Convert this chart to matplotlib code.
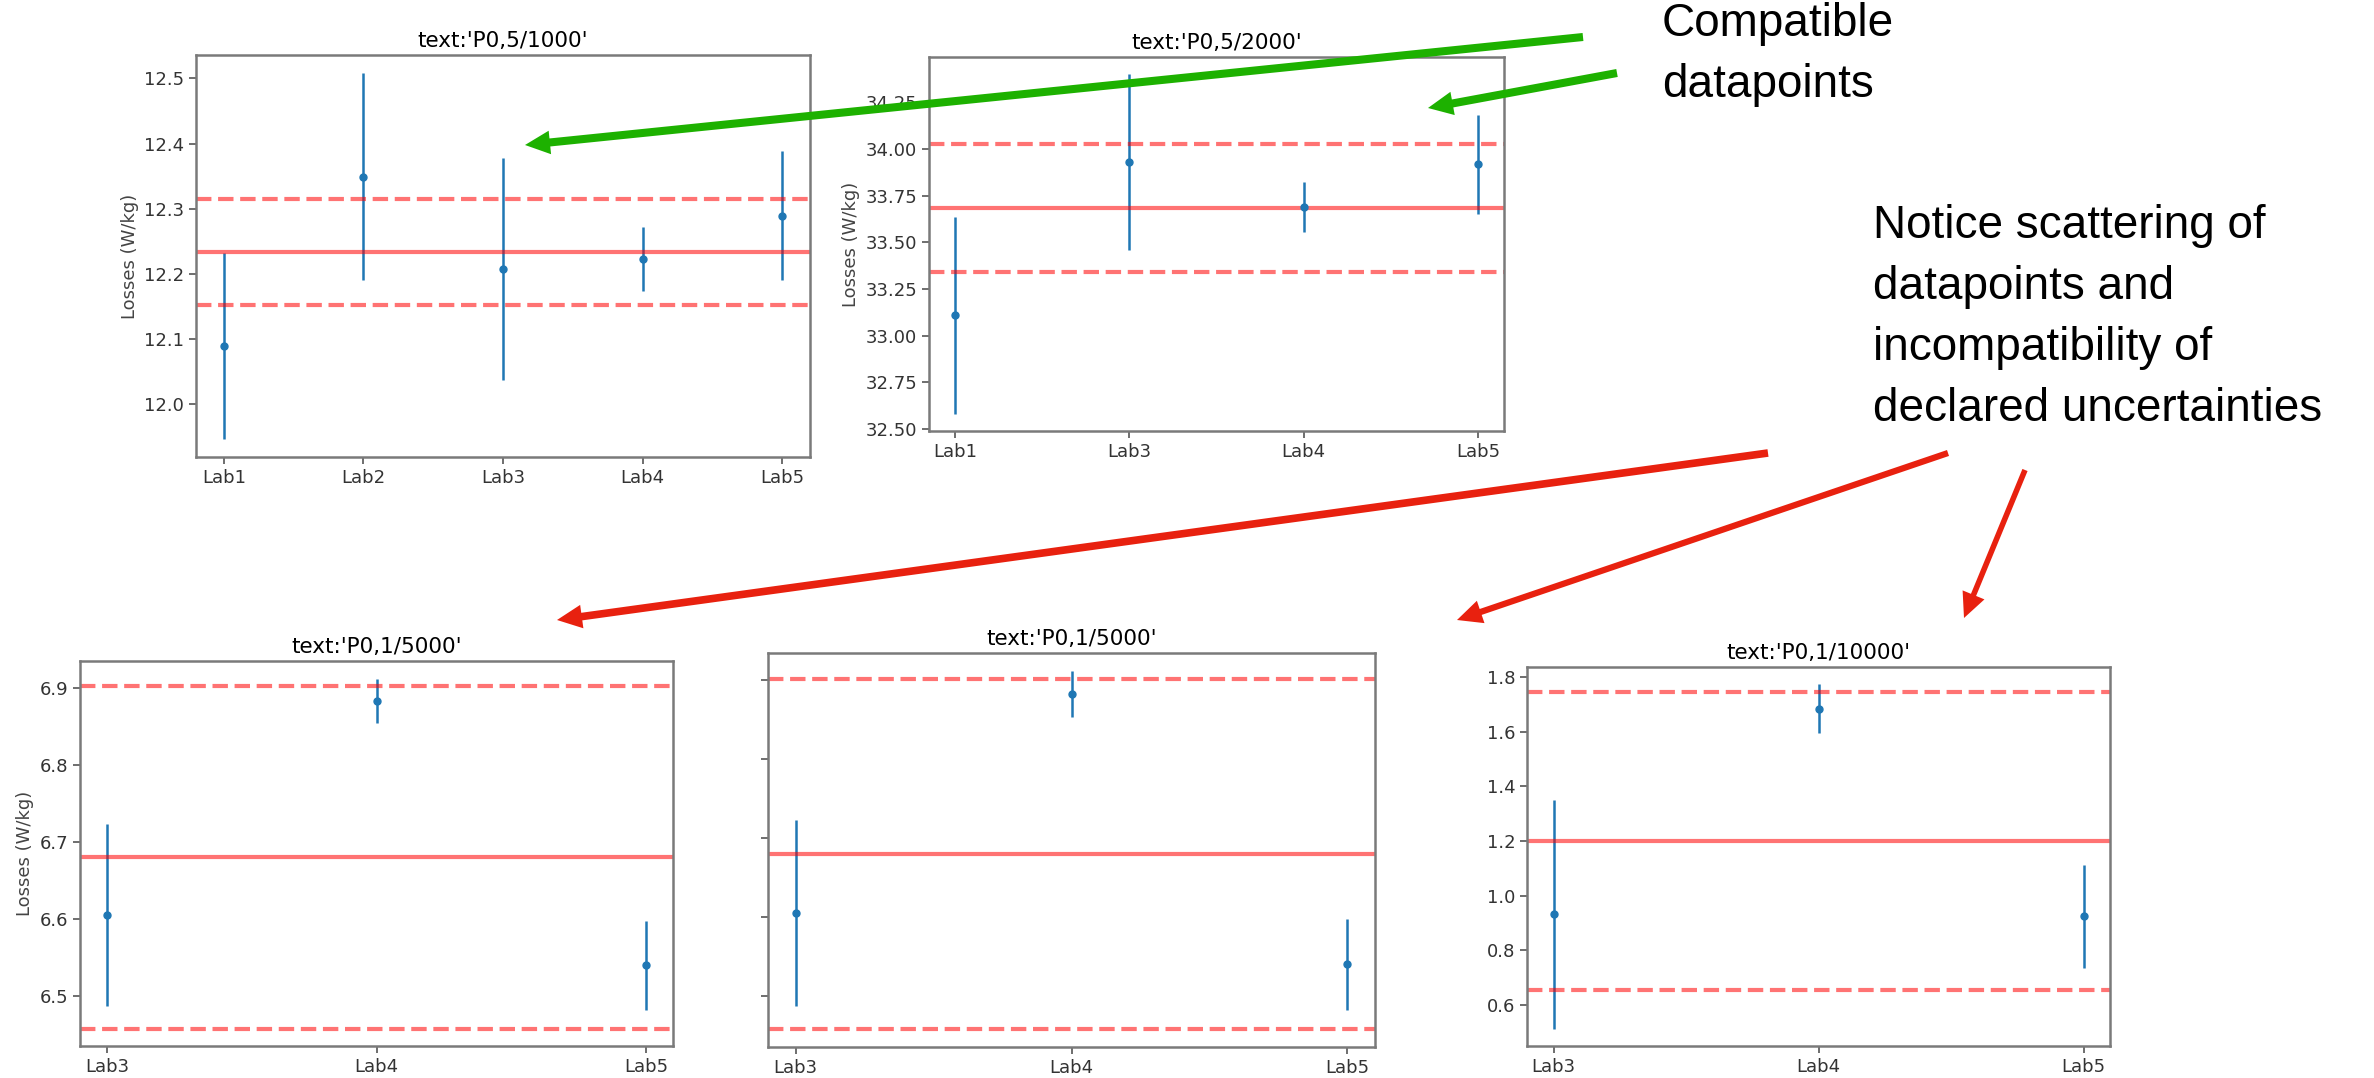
import matplotlib
matplotlib.use("Agg")
import matplotlib.pyplot as plt
import matplotlib.ticker as ticker
from matplotlib.patches import FancyArrowPatch

W, H = 2374, 1078

# --- data ---
labs_a = ["Lab1", "Lab2", "Lab3", "Lab4", "Lab5"]
loss_a = [12.089, 12.349, 12.207, 12.222, 12.289]
err_a = [0.143, 0.159, 0.171, 0.049, 0.099]
mean_a, band_a = 12.233, 0.082

labs_b = ["Lab1", "Lab3", "Lab4", "Lab5"]
loss_b = [33.109, 33.930, 33.688, 33.918]
err_b = [0.529, 0.472, 0.135, 0.266]
mean_b, band_b = 33.685, 0.342

labs_c = ["Lab3", "Lab4", "Lab5"]
loss_c = [6.605, 6.883, 6.540]
err_c = [0.118, 0.029, 0.058]
mean_c, band_c = 6.680, 0.222

labs_e = ["Lab3", "Lab4", "Lab5"]
loss_e = [0.932, 1.683, 0.924]
err_e = [0.419, 0.090, 0.187]
mean_e, band_e = 1.200, 0.545

plt.rcParams['font.family'] = 'DejaVu Sans'
plt.rcParams['font.size'] = 13

fig = plt.figure(figsize=(W / 100, H / 100), dpi=100)


def box(l, t, r, b):
    # pixel box -> figure fraction rect
    return [l / W, 1 - b / H, (r - l) / W, (b - t) / H]


def panel(rect, title, labs, vals, errs, mean, band, step, ylabel=True, yticklabels=True):
    ax = fig.add_axes(rect)
    ax.errorbar(labs, vals, yerr=errs, fmt='o', ms=5, elinewidth=1.8, color='C0')
    ax.axhline(mean, color='r', alpha=0.55, lw=3)
    ax.axhline(mean + band, color='r', alpha=0.55, lw=3, ls='--')
    ax.axhline(mean - band, color='r', alpha=0.55, lw=3, ls='--')
    ax.yaxis.set_major_locator(ticker.MultipleLocator(step))
    ax.set_title(title, fontsize=15.5)
    if ylabel:
        ax.set_ylabel("Losses (W/kg)", color='#444444')
    if not yticklabels:
        ax.tick_params(axis='y', labelleft=False)
    for s in ax.spines.values():
        s.set_color('#7a7a7a')
        s.set_linewidth(1.8)
    ax.tick_params(colors='#555555', labelcolor='#333333', width=1.2, length=5)
    return ax


panel(box(196, 55, 810, 457), "text:'P0,5/1000'", labs_a, loss_a, err_a, mean_a, band_a, 0.1)
panel(box(929, 57, 1504, 431), "text:'P0,5/2000'", labs_b, loss_b, err_b, mean_b, band_b, 0.25)
panel(box(80, 661, 673, 1046), "text:'P0,1/5000'", labs_c, loss_c, err_c, mean_c, band_c, 0.1)
panel(box(768, 653, 1375, 1047), "text:'P0,1/5000'", labs_c, loss_c, err_c, mean_c, band_c, 0.1,
      ylabel=False, yticklabels=False)
panel(box(1527, 667, 2110, 1046), "text:'P0,1/10000'", labs_e, loss_e, err_e, mean_e, band_e, 0.2,
      ylabel=False)

# --- slide annotations ---
green = '#1db100'
red = '#e8210f'


def fp(x, y):
    return (x / W, 1 - y / H)


fig.text(*fp(1662, 55), "Compatible\ndatapoints", family='Liberation Sans',
         fontsize=33, va='center', ha='left', linespacing=1.5)
fig.text(*fp(1873, 317), "Notice scattering of\ndatapoints and\nincompatibility of\ndeclared uncertainties",
         family='Liberation Sans', fontsize=33, va='center', ha='left', linespacing=1.5)

# start px, end px, colour, tail width (pt)
arrows = [
    ((1583, 37), (525, 145), green, 0.58),
    ((1617, 73), (1428, 108), green, 0.58),
    ((1768, 453), (557, 620), red, 0.55),
    ((1948, 453), (1457, 620), red, 0.45),
    ((2025, 470), (1964, 618), red, 0.40),
]
for a, b, c, tw in arrows:
    arr = FancyArrowPatch(fp(*a), fp(*b), transform=fig.transFigure,
                          arrowstyle=f'simple,head_length=1.8,head_width=1.7,tail_width={tw}',
                          mutation_scale=10, lw=0, color=c,
                          shrinkA=0, shrinkB=0)
    fig.add_artist(arr)

fig.savefig("out.png", dpi=100)
